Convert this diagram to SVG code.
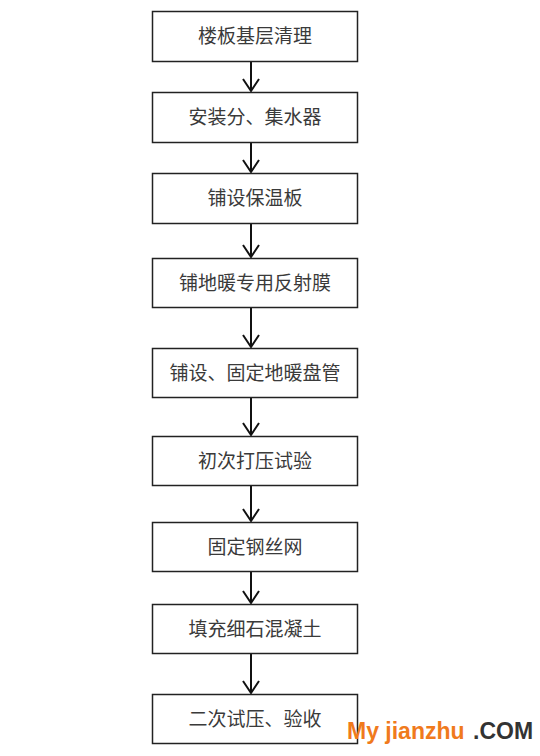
<svg xmlns="http://www.w3.org/2000/svg" width="540" height="756" viewBox="0 0 540 756">
<defs>
<style>
.box{fill:#fff;stroke:#222;stroke-width:1.5}
.t{font-family:"Noto Sans CJK SC","Noto Sans",sans-serif;font-size:19px;fill:#3a3a3a;text-anchor:middle}
.c{stroke:#111;stroke-width:2;fill:none}
.wm{font-family:"Liberation Sans",Arial,sans-serif;font-weight:bold;font-size:23px}
</style>
</defs>
<rect width="540" height="756" fill="#fff"/>
<g id="connectors">
<path class="c" d="M251,61 V91"/>
<path class="c" d="M251,142 V172"/>
<path class="c" d="M251,223 V257"/>
<path class="c" d="M251,308 V347"/>
<path class="c" d="M251,398 V435"/>
<path class="c" d="M251,485 V521"/>
<path class="c" d="M251,571 V603"/>
<path class="c" d="M251,653 V693"/>
<g fill="none" stroke="#111" stroke-width="2">
<path d="M243,79 L251,91 L259,79"/>
<path d="M243,160 L251,172 L259,160"/>
<path d="M243,245 L251,257 L259,245"/>
<path d="M243,335 L251,347 L259,335"/>
<path d="M243,423 L251,435 L259,423"/>
<path d="M243,509 L251,521 L259,509"/>
<path d="M243,591 L251,603 L259,591"/>
<path d="M243,681 L251,693 L259,681"/>
</g>
</g>
<g id="n1"><rect class="box" x="152.5" y="11.5" width="205" height="50"/><text class="t" x="255" y="43">楼板基层清理</text></g>
<g id="n2"><rect class="box" x="152.5" y="92.5" width="205" height="50"/><text class="t" x="255" y="124">安装分、集水器</text></g>
<g id="n3"><rect class="box" x="152.5" y="173.5" width="205" height="50"/><text class="t" x="255" y="205">铺设保温板</text></g>
<g id="n4"><rect class="box" x="152.5" y="258.5" width="205" height="49"/><text class="t" x="255" y="290">铺地暖专用反射膜</text></g>
<g id="n5"><rect class="box" x="152.5" y="348.5" width="205" height="49"/><text class="t" x="255" y="380">铺设、固定地暖盘管</text></g>
<g id="n6"><rect class="box" x="152.5" y="436.5" width="205" height="49"/><text class="t" x="255" y="468">初次打压试验</text></g>
<g id="n7"><rect class="box" x="152.5" y="522.5" width="205" height="49"/><text class="t" x="255" y="554">固定钢丝网</text></g>
<g id="n8"><rect class="box" x="152.5" y="604.5" width="205" height="49"/><text class="t" x="255" y="636">填充细石混凝土</text></g>
<g id="n9"><rect class="box" x="152.5" y="694.5" width="205" height="49"/><text class="t" x="255" y="726">二次试压、验收</text></g>
<g id="watermark">
<text class="wm" x="347" y="739" fill="#f07a1c">My jianzhu</text>
<text class="wm" x="473" y="739" fill="#333" font-size="20">.COM</text>
</g>
</svg>
